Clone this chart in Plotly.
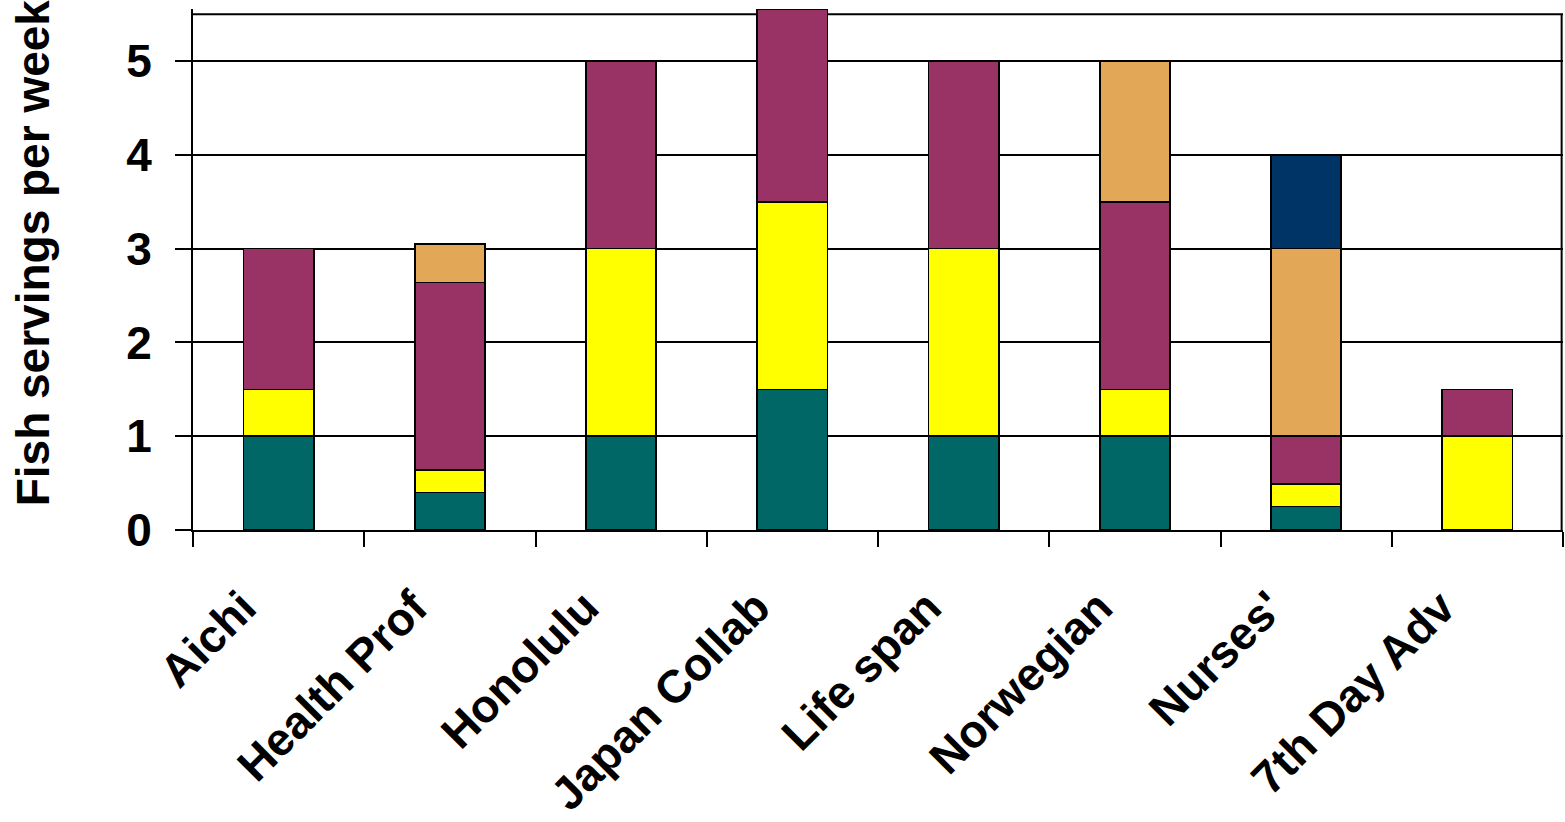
import plotly.graph_objects as go

# Studies and fish servings per week, split by fish type (bottom to top)
studies = ["Aichi", "Health Prof", "Honolulu", "Japan Collab", "Life span",
           "Norwegian", "Nurses'", "7th Day Adv"]
teal_vals = [1.0, 0.4, 1.0, 1.5, 1.0, 1.0, 0.25, None]
yellow_vals = [0.5, 0.24, 2.0, 2.0, 2.0, 0.5, 0.24, 1.0]
maroon_vals = [1.5, 2.0, 2.0, 2.05, 2.0, 2.0, 0.51, 0.5]
tan_vals = [None, 0.41, None, None, None, 1.5, 2.0, None]
navy_vals = [None, None, None, None, None, None, 1.0, None]

y_ticks = [0, 1, 2, 3, 4, 5]
frame_top = 5.5
y_max = 5.555

series = [
    (teal_vals, "#006666"),
    (yellow_vals, "#FFFF00"),
    (maroon_vals, "#993366"),
    (tan_vals, "#E3A857"),
    (navy_vals, "#003366"),
]

fig = go.Figure()
for vals, color in series:
    fig.add_trace(go.Bar(
        x=studies, y=vals,
        marker=dict(color=color, line=dict(color="black", width=1.6)),
        showlegend=False,
    ))

font_main = dict(family="Arial, Liberation Sans, sans-serif", size=46,
                 color="black", weight="bold")

fig.update_layout(
    barmode="stack",
    bargap=0.59,
    width=1565, height=822,
    margin=dict(l=193, r=2, t=9, b=292),
    paper_bgcolor="white",
    plot_bgcolor="white",
    font=font_main,
    xaxis=dict(
        type="category",
        tickson="boundaries",
        ticks="outside", ticklen=15, tickwidth=2, tickcolor="black",
        showline=True, linecolor="black", linewidth=2,
        showgrid=False,
        tickangle=-45,
        tickfont=font_main,
        ticklabelstandoff=30,
        ticklabelshift=-36,
        automargin=False,
    ),
    yaxis=dict(
        range=[0, y_max],
        tickvals=y_ticks,
        ticks="outside", ticklen=16, tickwidth=2, tickcolor="black",
        showline=True, linecolor="black", linewidth=2,
        showgrid=True, gridcolor="black", gridwidth=2,
        zeroline=False,
        tickfont=font_main,
        ticklabelstandoff=14,
        automargin=False,
    ),
    shapes=[
        # top and right edges of the frame
        dict(type="line", xref="paper", yref="y", x0=0, x1=1,
             y0=frame_top, y1=frame_top, line=dict(color="black", width=2),
             layer="below"),
        dict(type="line", xref="paper", yref="y", x0=0.999, x1=0.999,
             y0=0, y1=frame_top, line=dict(color="black", width=2),
             layer="below"),
    ],
    annotations=[
        dict(text="Fish servings per week", textangle=-90,
             xref="paper", x=(33 - 193) / 1370, xanchor="center",
             yref="y", y=2.95, yanchor="middle",
             showarrow=False, font=font_main),
    ],
)

fig.write_html("out.html")
